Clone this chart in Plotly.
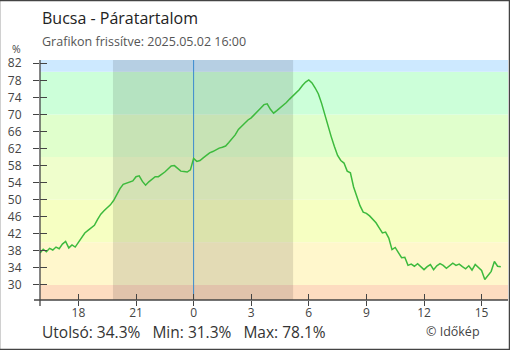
import pandas as pd
import plotly.graph_objects as go

# Relative humidity (%), 10-minute readings from 2025.05.01 16:00 to 2025.05.02 16:00
start = "2025-05-01 16:00"
humidity = [
    37.5, 38.4, 37.8, 38.6, 38.2, 38.9,   # 16:00
    38.5, 39.6, 40.2, 38.7, 39.4, 38.9,   # 17:00
    40.0, 41.2, 42.2, 42.8, 43.4, 44.0,   # 18:00
    45.4, 46.6, 47.4, 48.0, 48.8, 49.8,   # 19:00
    51.3, 52.6, 53.6, 53.9, 54.1, 54.4,   # 20:00
    55.4, 55.6, 54.3, 53.4, 54.2, 54.9,   # 21:00
    55.4, 55.4, 55.9, 56.5, 57.2, 57.9,   # 22:00
    58.0, 57.3, 56.7, 56.6, 56.5, 57.0,   # 23:00
    59.7, 59.0, 59.2, 59.8, 60.5, 61.0,   # 00:00
    61.3, 61.7, 62.1, 62.3, 62.6, 63.4,   # 01:00
    64.3, 65.2, 66.5, 67.3, 68.0, 68.7,   # 02:00
    69.2, 69.9, 70.8, 71.5, 72.3, 72.5,   # 03:00
    71.2, 70.3, 70.9, 71.5, 72.2, 72.8,   # 04:00
    73.6, 74.3, 75.1, 75.8, 76.8, 77.6,   # 05:00
    78.1, 77.4, 76.2, 74.8, 72.6, 70.0,   # 06:00
    66.9, 64.8, 62.5, 60.4, 59.2, 58.6,   # 07:00
    56.7, 56.3, 53.0, 50.6, 48.6, 47.1,   # 08:00
    46.8, 46.2, 45.4, 44.6, 43.4, 42.2,   # 09:00
    42.4, 41.0, 38.3, 38.8, 37.6, 36.4,   # 10:00
    36.5, 34.6, 34.9, 34.4, 35.0, 34.2,   # 11:00
    33.6, 34.3, 34.8, 33.6, 34.5, 35.0,   # 12:00
    34.6, 33.9, 34.4, 35.1, 34.6, 34.9,   # 13:00
    34.3, 33.8, 34.5, 33.5, 34.8, 34.0,   # 14:00
    33.4, 31.3, 32.4, 33.2, 35.5, 34.4,   # 15:00
    34.3,                                 # 16:00
]
times = pd.date_range(start, periods=len(humidity), freq="10min")

# Colour bands behind the curve (lower edge, upper edge, colour)
band_edges = [26.48, 30, 40, 50, 60, 70, 80, 82.77]
band_colors = ["#fddcc0", "#fff7cc", "#f6ffc2", "#effecc", "#e0ffcc", "#ccffd9", "#cde9ff"]

# Night (sunset .. sunrise)
night = ["2025-05-01 19:48", "2025-05-02 05:11"]
midnight = "2025-05-02 00:00"

x_range = ["2025-05-01 16:00", "2025-05-02 16:22:30"]
y_range = [band_edges[0], band_edges[-1]]
y_ticks = list(range(30, 83, 4))

font = "Open Sans, Noto Sans, sans-serif"
axis_color = "#444444"

fig = go.Figure()
fig.add_trace(go.Scatter(
    x=times, y=humidity, mode="lines",
    line=dict(color="#3dba3d", width=1.5),
    hoverinfo="skip", showlegend=False,
))
# helper trace so the overlaid tick axes are drawn
fig.add_trace(go.Scatter(
    x=[times[0]], y=[humidity[0]], xaxis="x2", yaxis="y2", mode="markers",
    marker=dict(opacity=0), hoverinfo="skip", showlegend=False,
))

shapes = []
for lo, hi, col in zip(band_edges[:-1], band_edges[1:], band_colors):
    shapes.append(dict(type="rect", xref="paper", yref="y", x0=0, x1=1, y0=lo, y1=hi,
                       fillcolor=col, line=dict(width=0), layer="below"))
shapes.append(dict(type="rect", xref="x", yref="paper", x0=night[0], x1=night[1], y0=0, y1=1,
                   fillcolor="rgba(0,0,0,0.11)", line=dict(width=0), layer="below"))
shapes.append(dict(type="line", xref="x", yref="paper", x0=midnight, x1=midnight, y0=0, y1=1,
                   line=dict(color="#3b8bd0", width=1), layer="below"))
# axis lines that run slightly past the corner
shapes.append(dict(type="line", xref="paper", yref="paper", x0=-0.0128, x1=1, y0=0, y1=0,
                   line=dict(color=axis_color, width=1.3)))
shapes.append(dict(type="line", xref="paper", yref="paper", x0=0, x1=0, y0=-0.025, y1=1,
                   line=dict(color=axis_color, width=1.3)))
# outer frame
shapes.append(dict(type="rect", xref="paper", yref="paper",
                   x0=-40.5 / 468, x1=509.5 / 468 - 40 / 468, y0=-49.5 / 240, y1=299.5 / 240,
                   line=dict(color="#444444", width=1.5), fillcolor="rgba(0,0,0,0)"))

last_v = humidity[-1]
min_v = min(humidity)
max_v = max(humidity)

annotations = [
    dict(text="Bucsa - Páratartalom", xref="paper", yref="paper", x=0, y=(300 - 18) / 240,
         xanchor="left", yanchor="middle", showarrow=False,
         font=dict(family=font, size=16, color="#222222")),
    dict(text="Grafikon frissítve: 2025.05.02 16:00", xref="paper", yref="paper",
         x=0, y=(300 - 41) / 240, xanchor="left", yanchor="middle", showarrow=False,
         font=dict(family=font, size=12.5, color="#555555")),
    dict(text="%", xref="paper", yref="paper", x=-24 / 468, y=(300 - 48.5) / 240,
         xanchor="center", yanchor="middle", showarrow=False, borderpad=0,
         font=dict(family=font, size=10.5, color="#444444")),
    dict(text=f"Utolsó: {last_v:.1f}%&nbsp;&nbsp;&nbsp;Min: {min_v:.1f}%&nbsp;&nbsp;&nbsp;Max: {max_v:.1f}%",
         xref="paper", yref="paper", x=0, y=(300 - 332) / 240,
         xanchor="left", yanchor="middle", showarrow=False,
         font=dict(family=font, size=15.5, color="#333333")),
    dict(text="© Időkép", xref="paper", yref="paper", x=(482 - 40) / 468, y=(300 - 331) / 240,
         xanchor="right", yanchor="middle", showarrow=False,
         font=dict(family=font, size=12.5, color="#444444")),
]

tick_font = dict(family=font, size=12, color="#444444")
fig.update_layout(
    width=510, height=350,
    margin=dict(l=40, r=2, t=60, b=50),
    paper_bgcolor="white", plot_bgcolor="white",
    shapes=shapes, annotations=annotations,
    showlegend=False,
    xaxis=dict(type="date", range=x_range, tick0="2025-05-01 18:00", dtick=3 * 3600 * 1000,
               tickformat="%-H", ticks="outside", ticklen=5, tickwidth=1.2, tickcolor=axis_color,
               showgrid=False, zeroline=False, showline=False, tickfont=tick_font,
               ticklabelstandoff=-3, fixedrange=True),
    xaxis2=dict(type="date", range=x_range, tick0="2025-05-01 18:00", dtick=3 * 3600 * 1000,
                overlaying="x", matches="x", ticks="inside", ticklen=6, tickwidth=1.2,
                tickcolor=axis_color, showticklabels=False, showgrid=False, zeroline=False,
                showline=False),
    yaxis=dict(range=y_range, tickvals=y_ticks, ticks="outside", ticklen=6, tickwidth=1.2,
               tickcolor=axis_color, showgrid=False, zeroline=False, showline=False,
               tickfont=tick_font, ticklabelstandoff=9, fixedrange=True),
    yaxis2=dict(range=y_range, tickvals=y_ticks, overlaying="y", matches="y", ticks="inside",
                ticklen=7, tickwidth=1.2, tickcolor=axis_color, showticklabels=False,
                showgrid=False, zeroline=False, showline=False),
)

fig.write_html("out.html")
